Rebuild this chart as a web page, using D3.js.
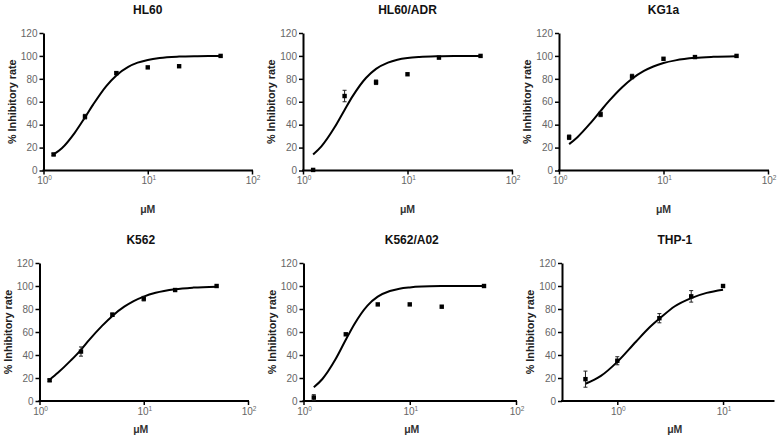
<!DOCTYPE html>
<html>
<head>
<meta charset="utf-8">
<script src="https://cdn.jsdelivr.net/npm/d3@7"></script>
<style>
  html, body { margin: 0; padding: 0; background: #fff; }
  svg { display: block; }
  text { font-family: "Liberation Sans", Arial, sans-serif; }
</style>
</head>
<body>
<svg id="chart" width="778" height="439"></svg>
<script>
// ---------------- DATA ----------------
const cellLines = ["HL60", "HL60/ADR", "KG1a", "K562", "K562/A02", "THP-1"];

// concentrations (µM)
const concMain = [1.25, 2.5, 5, 10, 20, 50];
const concTHP1 = [0.5, 1, 2.5, 5, 10];

// mean % inhibitory rate
const hl60     = [14, 47, 85, 90, 91, 100];
const hl60adr  = [0.5, 65, 77, 84, 98.5, 100];
const kg1a     = [29, 49, 82, 97.5, 99, 100];
const k562     = [18, 43, 75, 89, 96.5, 100];
const k562a02  = [3, 58, 84, 84, 82, 100];
const thp1     = [19, 35, 72, 91, 100];

// error bars (±)
const hl60Err    = [1, 2, 1, 0.5, 0.5, 0.5];
const hl60adrErr = [0.5, 5, 2, 0.5, 0.5, 0.5];
const kg1aErr    = [2, 2, 2, 0.5, 0.5, 0.5];
const k562Err    = [1, 4, 1.5, 2, 0.5, 0.5];
const k562a02Err = [2.5, 0.5, 0.5, 0.5, 0.5, 0.5];
const thp1Err    = [7, 3.5, 4, 5, 0.5];

// fitted curves
const fitConcMain = [1.25, 1.5, 2, 2.5, 3, 4, 5, 6.5, 8, 10, 13, 20, 30, 50];
const hl60Fit    = [14, 19.4, 33.1, 46.4, 57.7, 73.7, 83, 90.4, 94.1, 96.5, 98.2, 99.4, 99.8, 100];
const hl60adrFit = [14, 21.1, 37.5, 52.9, 65.1, 80.7, 88.7, 94.2, 96.7, 98.2, 99.1, 99.7, 99.9, 100];
const kg1aFit    = [23, 29.1, 41.4, 52, 60.5, 72.5, 80.1, 86.9, 90.8, 93.8, 96.1, 98.3, 99.2, 99.7];
const k562Fit    = [18.5, 24.5, 35.3, 44.5, 53.1, 65.5, 74, 82, 86.9, 90.8, 94.1, 97.2, 98.6, 99.4];
const k562a02Fit = [12, 18.9, 36.2, 53.2, 66.6, 83, 90.7, 95.6, 97.7, 98.8, 99.5, 99.9, 100, 100];
const fitConcTHP1 = [0.5, 0.7, 1, 1.5, 2, 2.5, 3.5, 5, 7, 10];
const thp1Fit     = [15, 21.8, 34, 51.5, 63.7, 71.5, 82.4, 89.5, 94, 96.8];

// axis ticks
const yTicks = [0, 20, 40, 60, 80, 100, 120];
const xTicksMain = [1, 10, 100];
const xTicksTHP1 = [1, 10];
const xDomainMain = [1, 100];
const xDomainTHP1 = [0.3, 30];
const xLabel = "μM";
const yLabel = "% Inhibitory rate";

// ---------------- LAYOUT ----------------
const rows = [
  { yTop: 33, yBot: 170.5, titleY: 14, tickY: 183.5, labelY: 213 },
  { yTop: 263, yBot: 401, titleY: 243.5, tickY: 414.5, labelY: 433 }
];
const panels = [
  { name: cellLines[0], row: 0, left: 43.5, right: 252, conc: concMain, vals: hl60, err: hl60Err, fx: fitConcMain, fy: hl60Fit, dom: xDomainMain, ticks: xTicksMain, titleDx: 0 },
  { name: cellLines[1], row: 0, left: 303, right: 512, conc: concMain, vals: hl60adr, err: hl60adrErr, fx: fitConcMain, fy: hl60adrFit, dom: xDomainMain, ticks: xTicksMain, titleDx: 0 },
  { name: cellLines[2], row: 0, left: 559, right: 768, conc: concMain, vals: kg1a, err: kg1aErr, fx: fitConcMain, fy: kg1aFit, dom: xDomainMain, ticks: xTicksMain, titleDx: 0 },
  { name: cellLines[3], row: 1, left: 39.5, right: 248, conc: concMain, vals: k562, err: k562Err, fx: fitConcMain, fy: k562Fit, dom: xDomainMain, ticks: xTicksMain, titleDx: -3 },
  { name: cellLines[4], row: 1, left: 303.5, right: 516, conc: concMain, vals: k562a02, err: k562a02Err, fx: fitConcMain, fy: k562a02Fit, dom: xDomainMain, ticks: xTicksMain, titleDx: 2 },
  { name: cellLines[5], row: 1, left: 562, right: 773.5, conc: concTHP1, vals: thp1, err: thp1Err, fx: fitConcTHP1, fy: thp1Fit, dom: xDomainTHP1, ticks: xTicksTHP1, titleDx: 7 }
];

const svg = d3.select("#chart");
const supers = { "-1": "⁻¹", "0": "⁰", "1": "¹", "2": "²" };

panels.forEach(p => {
  const r = rows[p.row];
  const x = d3.scaleLog().domain(p.dom).range([p.left, p.right]);
  const y = d3.scaleLinear().domain([0, 120]).range([r.yBot, r.yTop]);
  const g = svg.append("g");

  // Y axis
  const yAxis = d3.axisLeft(y).tickValues(yTicks).tickSize(4).tickSizeOuter(0).tickPadding(2);
  const ya = g.append("g").attr("transform", `translate(${p.left},0)`).call(yAxis);
  ya.select(".domain").attr("stroke", "#000").attr("stroke-width", 2);
  ya.selectAll(".tick line").attr("stroke", "#000").attr("stroke-width", 1.5);
  ya.selectAll(".tick text").attr("fill", "#666").attr("font-size", 10)
    .attr("font-family", "Liberation Sans, Arial, sans-serif");

  // X axis
  const xAxis = d3.axisBottom(x).tickValues(p.ticks).tickSize(4).tickSizeOuter(0).tickFormat("");
  const xa = g.append("g").attr("transform", `translate(0,${r.yBot})`).call(xAxis);
  xa.select(".domain").attr("stroke", "#000").attr("stroke-width", 2)
    .attr("d", `M${p.left - 1},0H${p.right + 1}`);
  xa.selectAll(".tick line").attr("stroke", "#000").attr("stroke-width", 1.5);

  // X tick labels with superscripts
  p.ticks.forEach(t => {
    const e = Math.round(Math.log10(t));
    const tx = g.append("text").attr("x", x(t) + 1).attr("y", r.tickY)
      .attr("text-anchor", "middle").attr("fill", "#666").attr("font-size", 10);
    tx.append("tspan").text("10");
    tx.append("tspan").attr("font-size", 6.5).attr("dy", -4).text(String(e));
  });

  // Title
  g.append("text").attr("x", (p.left + p.right) / 2 + p.titleDx).attr("y", r.titleY)
    .attr("text-anchor", "middle").attr("font-weight", "bold").attr("font-size", 12)
    .attr("fill", "#111").text(p.name);

  // X label
  g.append("text").attr("x", (p.left + p.right) / 2 + p.titleDx).attr("y", r.labelY)
    .attr("text-anchor", "middle").attr("font-weight", "bold").attr("font-size", 10.5)
    .attr("fill", "#333").text(xLabel);

  // Y label
  g.append("text")
    .attr("transform", `translate(${p.left - 32},${(r.yTop + r.yBot) / 2}) rotate(-90)`)
    .attr("text-anchor", "middle").attr("dominant-baseline", "central")
    .attr("font-weight", "bold").attr("font-size", 10.8).attr("fill", "#222")
    .text(yLabel);

  // Fitted curve
  const line = d3.line().x(d => x(d[0])).y(d => y(d[1])).curve(d3.curveMonotoneX);
  g.append("path").datum(d3.zip(p.fx, p.fy)).attr("d", line)
    .attr("fill", "none").attr("stroke", "#000").attr("stroke-width", 2);

  // Error bars
  const pts = d3.zip(p.conc, p.vals, p.err);
  const eb = g.append("g").attr("stroke", "#222").attr("stroke-width", 1);
  pts.forEach(d => {
    if (d[2] < 1) return;
    const cx = x(d[0]);
    eb.append("line").attr("x1", cx).attr("x2", cx).attr("y1", y(d[1] - d[2])).attr("y2", y(d[1] + d[2]));
    eb.append("line").attr("x1", cx - 2).attr("x2", cx + 2).attr("y1", y(d[1] - d[2])).attr("y2", y(d[1] - d[2]));
    eb.append("line").attr("x1", cx - 2).attr("x2", cx + 2).attr("y1", y(d[1] + d[2])).attr("y2", y(d[1] + d[2]));
  });

  // Points
  g.append("g").selectAll("rect").data(pts).join("rect")
    .attr("x", d => x(d[0]) - 2.2).attr("y", d => y(d[1]) - 2.2)
    .attr("width", 4.4).attr("height", 4.4).attr("fill", "#000");
});
</script>
</body>
</html>
